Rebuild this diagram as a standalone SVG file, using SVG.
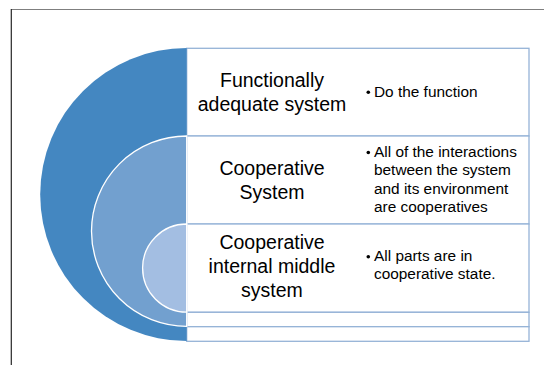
<svg xmlns="http://www.w3.org/2000/svg" width="544" height="365" viewBox="0 0 544 365">
<style>
.row{fill:#ffffff;stroke:#95B3D7;stroke-width:1.3}
.t{font-family:"Liberation Sans",Arial,sans-serif;font-size:19.5px;fill:#000;text-anchor:middle}
.b{font-family:"Liberation Sans",Arial,sans-serif;font-size:15.4px;fill:#000}
.dot{fill:#000}
.ring{stroke:#ffffff;stroke-width:1.3}
</style>
<rect width="544" height="365" fill="#ffffff"/>
<g id="frame">
<line x1="11" y1="9.5" x2="544" y2="9.5" stroke="#7f7f7f" stroke-width="1.2"/>
<line x1="11.3" y1="9" x2="11.3" y2="365" stroke="#262626" stroke-width="1.2"/>
</g>
<g id="rows">
<rect class="row" x="186.7" y="48.3" width="342.3" height="87.7"/>
<rect class="row" x="186.7" y="136" width="342.3" height="88"/>
<rect class="row" x="186.7" y="224" width="342.3" height="88.3"/>
<rect class="row" x="186.7" y="312.3" width="342.3" height="14.4"/>
<rect class="row" x="186.7" y="326.7" width="342.3" height="14.6"/>
</g>
<g id="outer">
<path d="M186.7,48 A146.5,146.5 0 0 0 186.7,341 Z" fill="#4487C1"/>
</g>
<g id="middle">
<path class="ring" d="M186.7,136 A95.2,95.2 0 0 0 186.7,326.4 Z" fill="#72A0CF"/>
</g>
<g id="inner">
<path class="ring" d="M186.7,224 A44.1,44.1 0 0 0 186.7,312.2 Z" fill="#A3BEE2"/>
</g>
<g id="node1">
<text class="t" x="272" y="86.7">Functionally</text>
<text class="t" x="272" y="110.7">adequate system</text>
<circle class="dot" cx="368.3" cy="92.3" r="1.8"/>
<text class="b" x="374" y="96.7">Do the function</text>
</g>
<g id="node2">
<text class="t" x="272" y="175">Cooperative</text>
<text class="t" x="272" y="198.8">System</text>
<circle class="dot" cx="368.3" cy="152.5" r="1.8"/>
<text class="b" x="374" y="157">All of the interactions</text>
<text class="b" x="374" y="175.3">between the system</text>
<text class="b" x="374" y="193.5">and its environment</text>
<text class="b" x="374" y="211.7">are cooperatives</text>
</g>
<g id="node3">
<text class="t" x="272" y="249">Cooperative</text>
<text class="t" x="272" y="273">internal middle</text>
<text class="t" x="272" y="297">system</text>
<circle class="dot" cx="368.3" cy="256.8" r="1.8"/>
<text class="b" x="374" y="261.2">All parts are in</text>
<text class="b" x="374" y="279.4">cooperative state.</text>
</g>
<g id="connectors"></g>
</svg>
